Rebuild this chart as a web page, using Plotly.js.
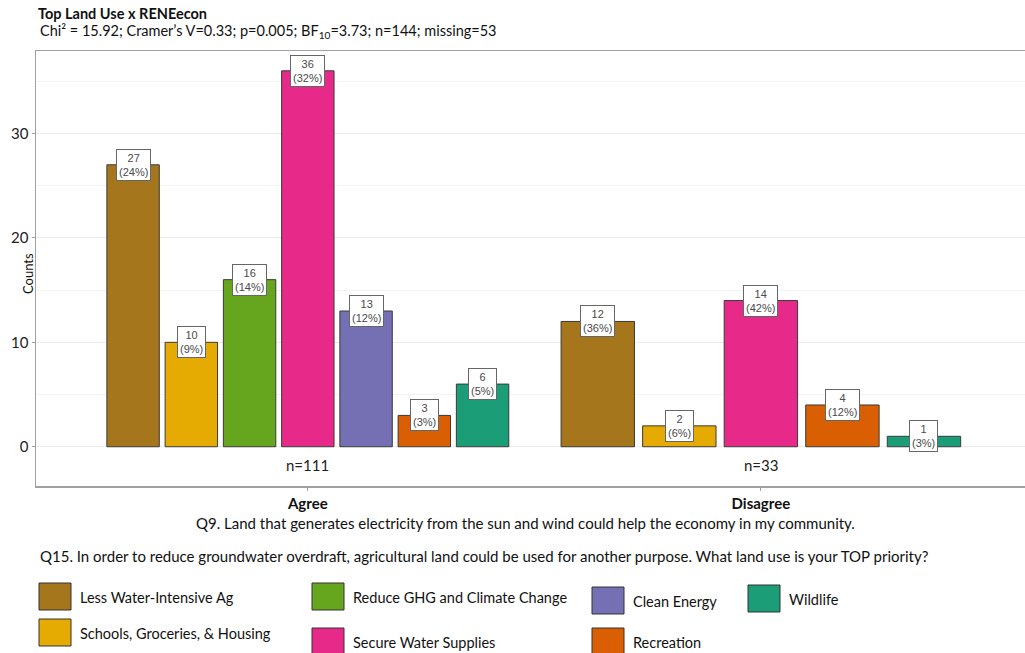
<!DOCTYPE html>
<html>
<head>
<meta charset="utf-8">
<script src="https://cdn.plot.ly/plotly-3.0.1.min.js"></script>
<style>html,body{margin:0;padding:0;background:#fff;}#chart{width:1025px;height:653px;}</style>
</head>
<body>
<div id="chart"></div>
<script>
// ---- data ----
const groups = ['Agree', 'Disagree'];
const categories = ['Less Water-Intensive Ag', 'Schools, Groceries, & Housing', 'Reduce GHG and Climate Change',
  'Secure Water Supplies', 'Clean Energy', 'Recreation', 'Wildlife'];
const agreeCounts = [27, 10, 16, 36, 13, 3, 6];
const disagreeCounts = [12, 2, null, 14, null, 4, 1];
const colors = ['#A6761D', '#E6AB02', '#66A61E', '#E7298A', '#7570B3', '#D95F02', '#1B9E77'];
const yTicks = [0, 10, 20, 30];
const titleText = 'Top Land Use x RENEecon';
const subtitleText = 'Chi² = 15.92; Cramer’s V=0.33; p=0.005; BF<sub>10</sub>=3.73; n=144; missing=53';
const xTitle = 'Q9. Land that generates electricity from the sun and wind could help the economy in my community.';
const legendTitle = 'Q15. In order to reduce groundwater overdraft, agricultural land could be used for another purpose. What land use is your TOP priority?';

// ---- layout helpers (pixel -> paper) ----
const L = 36, R = 1025, T = 51, B = 486;
const fx = px => (px - L) / (R - L);
const fy = py => (B - py) / (B - T);
const FONT = 'Lato, "Open Sans", sans-serif';

const countsByGroup = [agreeCounts, disagreeCounts];
const dodgeWidth = 0.9, pad = 0.1;

// positions of bars within each group (only non-missing categories take a slot)
const positions = countsByGroup.map((counts, g) => {
  const present = counts.map((v, i) => v == null ? null : i).filter(i => i != null);
  const slot = dodgeWidth / present.length;
  const pos = {};
  present.forEach((ci, k) => { pos[ci] = { x: g - dodgeWidth / 2 + slot * (k + 0.5), w: slot * (1 - pad) }; });
  return pos;
});
const totals = countsByGroup.map(c => c.reduce((a, v) => a + (v || 0), 0));

const traces = categories.map((name, ci) => {
  const xs = [], ys = [], ws = [];
  countsByGroup.forEach((counts, g) => {
    if (counts[ci] != null) { xs.push(positions[g][ci].x); ys.push(counts[ci]); ws.push(positions[g][ci].w); }
  });
  return {
    type: 'bar', name: name, x: xs, y: ys, width: ws,
    marker: { color: colors[ci], line: { color: '#3a3a3a', width: 1 } },
    showlegend: false, hoverinfo: 'x+y+name'
  };
});

const annotations = [];
// subtitle
annotations.push({ x: fx(38), y: fy(32), xref: 'paper', yref: 'paper', text: subtitleText,
  showarrow: false, xanchor: 'left', yanchor: 'middle', font: { family: FONT, size: 14.5, color: '#111' } });
// value labels
countsByGroup.forEach((counts, g) => {
  counts.forEach((v, ci) => {
    if (v == null) return;
    annotations.push({
      x: positions[g][ci].x, y: v, xref: 'x', yref: 'y',
      text: v + '<br>(' + Math.round(100 * v / totals[g]) + '%)',
      showarrow: false, xanchor: 'center', yanchor: 'middle',
      font: { family: 'Liberation Sans, Arial, sans-serif', size: 11, color: '#4a4a4a' },
      bgcolor: '#ffffff', bordercolor: '#666', borderwidth: 1, borderpad: 2
    });
  });
  annotations.push({
    x: g, y: -1.75, xref: 'x', yref: 'y', text: 'n=' + totals[g], showarrow: false,
    font: { family: FONT, size: 15, color: '#222' }
  });
});
// y title
annotations.push({ x: fx(18), y: fy(274), xref: 'paper', yref: 'paper', text: 'Counts', textangle: -90,
  showarrow: false, font: { family: FONT, size: 13, color: '#111' } });
// x title
annotations.push({ x: fx(525), y: fy(523), xref: 'paper', yref: 'paper', text: xTitle, showarrow: false,
  xanchor: 'center', yanchor: 'middle', font: { family: FONT, size: 15, color: '#111' } });
// legend title
annotations.push({ x: fx(38), y: fy(556), xref: 'paper', yref: 'paper', text: legendTitle, showarrow: false,
  xanchor: 'left', yanchor: 'middle', font: { family: FONT, size: 15, color: '#111' } });

// manual legend (column-major, 2 rows)
const colX = [39, 312, 592, 748];
const colTops = [[583, 619], [583, 628], [587, 628], [585]];
const shapes = [];
const sw = 32, sh = 27;
categories.forEach((name, ci) => {
  const col = Math.floor(ci / 2), row = ci % 2;
  const x0 = colX[col], y0 = colTops[col][row];
  shapes.push({ type: 'rect', xref: 'paper', yref: 'paper', x0: fx(x0), x1: fx(x0 + sw), y0: fy(y0), y1: fy(y0 + sh),
    fillcolor: colors[ci], line: { color: '#333', width: 1 } });
  annotations.push({ x: fx(x0 + sw + 7), y: fy(y0 + sh / 2 + 1), xref: 'paper', yref: 'paper', text: name,
    showarrow: false, xanchor: 'left', yanchor: 'middle', font: { family: FONT, size: 14.5, color: '#111' } });
});

const layout = {
  width: 1025, height: 653,
  margin: { l: L, r: 1025 - R, t: T, b: 653 - B, pad: 0 },
  paper_bgcolor: '#fff', plot_bgcolor: '#fff',
  title: {
    text: '<b>' + titleText + '</b>',
    x: 38 / 1025, xanchor: 'left', xref: 'container',
    y: 1 - 14 / 653, yanchor: 'middle', yref: 'container',
    font: { family: FONT, size: 14.5, color: '#111' }
  },
  barmode: 'overlay',
  xaxis: {
    range: [-0.6, 1.583], tickvals: [0, 1], ticktext: groups.map(g => '<b>' + g + '</b>'),
    showgrid: false, zeroline: false, showline: true, mirror: true, linecolor: '#a0a0a0', linewidth: 1.5,
    ticks: 'outside', ticklen: 3, tickcolor: '#a0a0a0',
    tickfont: { family: FONT, size: 15, color: '#111' }, fixedrange: true
  },
  yaxis: {
    range: [-3.76, 37.9], tickvals: yTicks, showgrid: true, gridcolor: '#ececec', gridwidth: 1,
    minor: { dtick: 5, showgrid: true, gridcolor: '#f3f3f3', gridwidth: 1 },
    zeroline: false, showline: true, mirror: false, linecolor: '#a0a0a0', linewidth: 1.5,
    ticks: 'outside', ticklen: 3, tickcolor: '#a0a0a0',
    tickfont: { family: FONT, size: 15, color: '#222' }, fixedrange: true
  },
  annotations: annotations, shapes: shapes, showlegend: false
};

Plotly.newPlot('chart', traces, layout, { displayModeBar: false, staticPlot: true });
</script>
</body>
</html>
